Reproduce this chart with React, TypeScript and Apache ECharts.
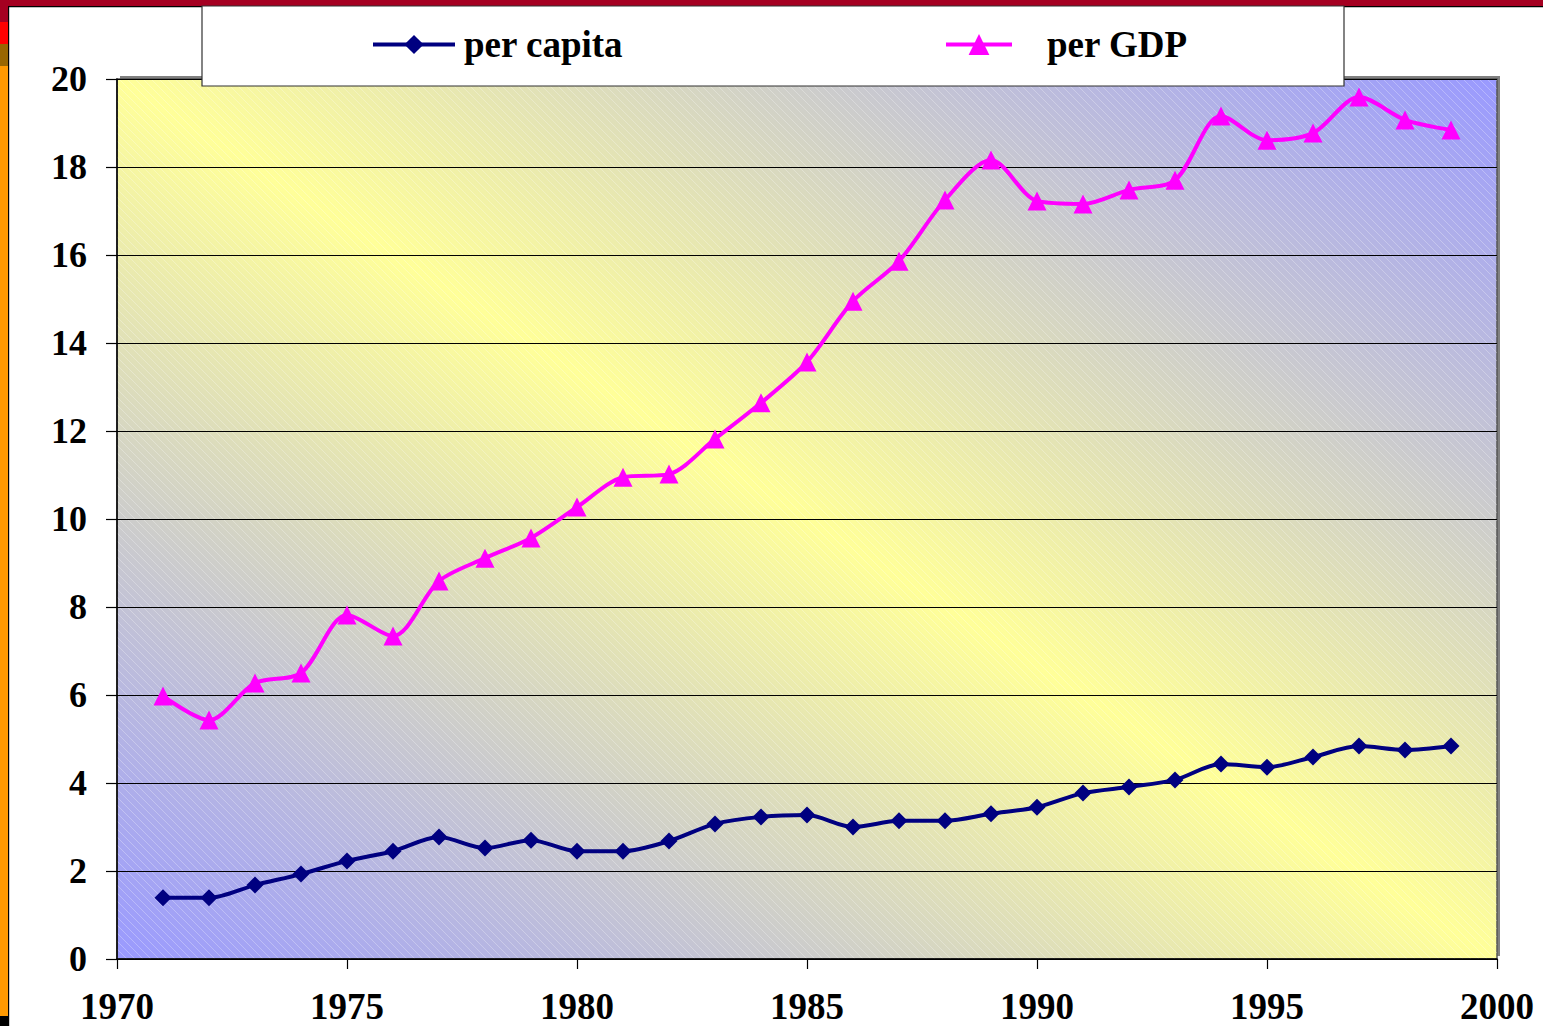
import React, { useEffect, useRef } from "react";
import * as echarts from "echarts";

const years = [1971, 1972, 1973, 1974, 1975, 1976, 1977, 1978, 1979, 1980, 1981, 1982, 1983, 1984, 1985, 1986, 1987, 1988, 1989, 1990, 1991, 1992, 1993, 1994, 1995, 1996, 1997, 1998, 1999];
const perCapita = [1.39, 1.39, 1.68, 1.93, 2.23, 2.45, 2.77, 2.52, 2.7, 2.45, 2.45, 2.68, 3.07, 3.23, 3.27, 3.0, 3.14, 3.14, 3.3, 3.45, 3.77, 3.91, 4.07, 4.43, 4.36, 4.59, 4.84, 4.75, 4.84];
const perGDP = [5.98, 5.43, 6.27, 6.5, 7.82, 7.34, 8.59, 9.11, 9.57, 10.27, 10.95, 11.02, 11.82, 12.64, 13.57, 14.95, 15.86, 17.25, 18.16, 17.23, 17.16, 17.48, 17.7, 19.16, 18.61, 18.77, 19.59, 19.07, 18.84];
const seriesNames = ["per capita", "per GDP"];
const xMin = 1970, xMax = 2000, xStep = 5;
const yMin = 0, yMax = 20, yStep = 2;

const FONT = "'Liberation Serif', 'Times New Roman', serif";
const W = 1543, H = 1026;
const G = { left: 117, top: 79, width: 1380, height: 880 };

const hatchSvg =
  "<svg xmlns='http://www.w3.org/2000/svg' width='8' height='8'>" +
  "<path d='M0,0 L8,8 M-2,6 L2,10 M6,-2 L10,2' stroke='white' stroke-opacity='0.3' stroke-width='0.9'/></svg>";
const hatchUrl = "data:image/svg+xml;charset=utf-8," + encodeURIComponent(hatchSvg);

export default function App() {
  const ref = useRef<HTMLDivElement>(null);
  useEffect(() => {
    if (!ref.current) return;
    const chart = echarts.init(ref.current, null, { renderer: "svg" });
    const cx = G.left + G.width / 2, cy = G.top + G.height / 2;
    const len = Math.hypot(G.width, G.height);
    const ux = G.height / len, uy = -G.width / len;
    const half = ((G.width / 2) * G.height + (G.height / 2) * G.width) / len;
    const grad = new echarts.graphic.LinearGradient(
      cx - half * ux, cy - half * uy, cx + half * ux, cy + half * uy,
      [
        { offset: 0, color: "#9999ff" },
        { offset: 0.5, color: "#ffff99" },
        { offset: 1, color: "#9999ff" },
      ],
      true
    );
    const legendText = { fontFamily: FONT, fontWeight: "bold", fontSize: 37, color: "#000" };
    const option: any = {
      animation: false,
      backgroundColor: "#ffffff",
      grid: { left: G.left, top: G.top, width: G.width, height: G.height, show: false },
      graphic: [
        { type: "rect", z: -3, silent: true, shape: { x: 0, y: 0, width: W, height: 6 }, style: { fill: "#a50021" } },
        { type: "rect", z: -3, silent: true, shape: { x: 0, y: 6, width: W, height: 1.2 }, style: { fill: "#000000" } },
        { type: "rect", z: -3, silent: true, shape: { x: 0, y: 6, width: 8, height: 16 }, style: { fill: "#a50021" } },
        { type: "rect", z: -3, silent: true, shape: { x: 0, y: 22, width: 8, height: 22 }, style: { fill: "#ff0000" } },
        { type: "rect", z: -3, silent: true, shape: { x: 0, y: 44, width: 8, height: 22 }, style: { fill: "#996600" } },
        { type: "rect", z: -3, silent: true, shape: { x: 0, y: 66, width: 8, height: 950 }, style: { fill: "#ff9900" } },
        { type: "rect", z: -3, silent: true, shape: { x: 0, y: 1016, width: 8, height: 10 }, style: { fill: "#000000" } },
        { type: "rect", z: -3, silent: true, shape: { x: 8, y: 6, width: 1.2, height: H }, style: { fill: "#000000" } },
        { type: "rect", z: -2, silent: true, shape: { x: G.left + 3, y: G.top - 3, width: G.width, height: G.height }, style: { fill: "#808080" } },
        { type: "rect", z: -1, silent: true, shape: { x: G.left, y: G.top, width: G.width, height: G.height }, style: { fill: grad, stroke: "#555555", lineWidth: 1.5 } },
        { type: "rect", z: -1, silent: true, shape: { x: G.left, y: G.top, width: G.width, height: G.height }, style: { fill: { image: hatchUrl, repeat: "repeat" } } },
        { type: "rect", z: 3, silent: true, shape: { x: 202, y: 6, width: 1142, height: 80 }, style: { fill: "#ffffff", stroke: "#333333", lineWidth: 1.2 } },
      ],
      legend: [
        {
          data: [seriesNames[0]], left: 371, top: 26, z: 6, padding: 0,
          itemWidth: 82, itemHeight: 24, itemGap: 0,
          lineStyle: { width: 4 },
          textStyle: { ...legendText, padding: [0, 0, 0, 4] },
        },
        {
          data: [seriesNames[1]], left: 944, top: 26, z: 6, padding: 0,
          itemWidth: 66, itemHeight: 26, itemGap: 0,
          lineStyle: { width: 4 },
          textStyle: { ...legendText, padding: [0, 0, 0, 30] },
        },
      ],
      xAxis: {
        type: "value", min: xMin, max: xMax, interval: xStep,
        axisLine: { show: true, lineStyle: { color: "#000", width: 1.5 } },
        axisTick: { show: true, length: 10, lineStyle: { color: "#000", width: 1.2 } },
        splitLine: { show: false },
        axisLabel: { fontFamily: FONT, fontWeight: "bold", fontSize: 37, color: "#000", margin: 29, formatter: (v: number) => String(v) },
      },
      yAxis: {
        type: "value", min: yMin, max: yMax, interval: yStep,
        axisLine: { show: true, lineStyle: { color: "#000", width: 1.5 } },
        axisTick: { show: true, length: 11, lineStyle: { color: "#000", width: 1.2 } },
        splitLine: { show: true, lineStyle: { color: "#000", width: 1 } },
        axisLabel: { fontFamily: FONT, fontWeight: "bold", fontSize: 36, color: "#000", margin: 30 },
      },
      series: [
        {
          name: seriesNames[0], type: "line", smooth: 0.3,
          data: years.map((y, i) => [y, perCapita[i]]),
          symbol: "diamond", symbolSize: 17,
          lineStyle: { color: "#000080", width: 4 },
          itemStyle: { color: "#000080" },
        },
        {
          name: seriesNames[1], type: "line", smooth: 0.3,
          data: years.map((y, i) => [y, perGDP[i]]),
          symbol: "triangle", symbolSize: 19,
          lineStyle: { color: "#ff00ff", width: 4 },
          itemStyle: { color: "#ff00ff" },
        },
      ],
    };
    chart.setOption(option);
    return () => chart.dispose();
  }, []);
  return <div ref={ref} style={{ position: "fixed", left: 0, top: 0, width: W, height: H }} />;
}
